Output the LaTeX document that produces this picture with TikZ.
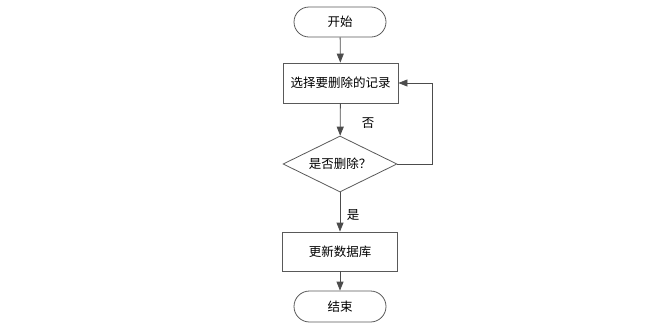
\documentclass[tikz,border=0pt]{standalone}
\usepackage{fontspec}
\setmainfont{Noto Sans CJK SC}
\usetikzlibrary{shapes.geometric,shapes.misc,arrows.meta}
\begin{document}
\begin{tikzpicture}[x=1pt,y=-1pt,
  every node/.style={font=\fontsize{12.5}{14}\selectfont},
  term/.style={draw=black!65, line width=0.8pt, rounded rectangle, minimum width=92pt, minimum height=30pt, inner sep=0pt},
  proc/.style={draw=black!65, line width=0.8pt, rectangle, minimum width=115pt, minimum height=40pt, inner sep=0pt},
  decide/.style={draw=black!65, line width=0.8pt, diamond, aspect=2, minimum width=114pt, minimum height=56pt, inner sep=0pt},
  conn/.style={draw=black!65, line width=0.8pt, -{Triangle[length=9pt,width=7pt]}, black!70},
  lbl/.style={inner sep=0pt}
]
\useasboundingbox (0,0) rectangle (671,325);
\node[term] (start) at (340,22) {开始};
\node[proc] (select) at (340.5,83) {选择要删除的记录};
\node[decide] (ask) at (340,164) {是否删除？};
\node[proc, minimum height=39pt] (update) at (340,251.5) {更新数据库};
\node[term, minimum height=31pt] (stop) at (340,306.5) {结束};
\coordinate (c1) at (432,164);
\coordinate (c2) at (432,83);
\draw[conn] (start) -- (select);
\draw[conn] (select) -- (ask);
\draw[conn] (ask) -- (update);
\draw[conn] (update) -- (stop);
\draw[conn] (ask.east) -- (c1) -- (c2) -- (select.east);
\node[lbl] (no) at (368,123) {否};
\node[lbl] (yes) at (353,215) {是};
\end{tikzpicture}
\end{document}
